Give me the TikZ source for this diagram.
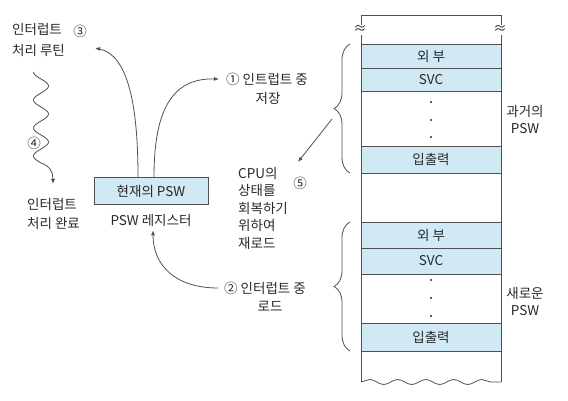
\documentclass[tikz,border=0pt]{standalone}
\usepackage{fontspec}
\setmainfont{Noto Sans CJK KR}
\usetikzlibrary{decorations.pathreplacing, decorations.pathmorphing, arrows.meta}

\begin{document}
\begin{tikzpicture}[x=1pt, y=-1pt]
    % Define styles for nodes and edges
    \tikzset{
        txt/.style={text=inkgray, font=\fontsize{13.5}{19}\selectfont, inner sep=0pt},
        pswbox/.style={draw=linegray, fill=rowblue, line width=0.8pt, minimum width=114pt, minimum height=27pt, inner sep=0pt},
        rownode/.style={draw=linegray, fill=rowblue, line width=0.8pt, minimum width=140pt, inner sep=0pt, text=inkgray, font=\fontsize{13.5}{15}\selectfont},
        edge/.style={draw=linegray, line width=0.8pt},
        arr/.style={draw=linegray, line width=0.8pt, -{Latex[length=5pt, width=4pt]}},
        bracestyle/.style={draw=linegray, line width=0.8pt, decorate, decoration={brace, amplitude=16pt}}
    }
    \definecolor{inkgray}{RGB}{40,40,40}
    \definecolor{linegray}{RGB}{80,80,80}
    \definecolor{rowblue}{RGB}{208,233,245}

    \useasboundingbox (0,0) rectangle (568,401);

    % ==========================================
    % MEMORY COLUMN
    % ==========================================
    % 1. Outline: straight top, wavy bottom
    \draw[edge] (361,382) -- (361,15) -- (501,15) -- (501,382);
    \draw[edge, decorate, decoration={snake, segment length=28pt, amplitude=2.5pt}] (361,382) -- (501,382);
    \node[txt, fill=white, inner sep=1pt] (cutl) at (360,30) {≈};
    \node[txt, fill=white, inner sep=1pt] (cutr) at (500,30) {≈};

    % 2. Old PSW rows
    \node[rownode, minimum height=24pt] (o1) at (431,56) {외 부};
    \node[rownode, minimum height=23pt] (o2) at (431,79.5) {SVC};
    \draw[edge] (361,146) -- (501,146);
    \node[rownode, minimum height=27pt] (o3) at (431,159.5) {입출력};
    \foreach \y in {102, 120, 137} { \fill[inkgray] (431,\y) circle (1.1pt); }

    % 3. New PSW rows
    \node[rownode, minimum height=26pt] (n1) at (431,235) {외 부};
    \node[rownode, minimum height=26pt] (n2) at (431,261) {SVC};
    \draw[edge] (361,323) -- (501,323);
    \node[rownode, minimum height=28pt] (n3) at (431,337) {입출력};
    \foreach \y in {280, 298, 316} { \fill[inkgray] (431,\y) circle (1.1pt); }

    % 4. Braces and their labels
    \draw[bracestyle] (350,173) -- (350,44);
    \draw[bracestyle] (350,351) -- (350,222);
    \node[txt, align=center, font=\fontsize{13.5}{17}\selectfont] (oldlbl) at (525,120) {과거의\\PSW};
    \node[txt, align=center, font=\fontsize{13.5}{17}\selectfont] (newlbl) at (525,302) {새로운\\PSW};

    % ==========================================
    % PSW REGISTER
    % ==========================================
    \node[pswbox] (cur) at (151,191) {};
    \node[txt] (curtxt) at (cur) {현재의 PSW};
    \node[txt] (reg) at (151,220) {PSW 레지스터};

    % ==========================================
    % LABELS
    % ==========================================
    \node[txt] (rtn1) at (37,29) {인터럽트};
    \node[txt, anchor=west] (rtn2) at (rtn1.west |- 0,50) {처리 루틴};
    \node[txt] (num3) at (80,31) {③};
    \node[txt] (done1) at (52,204) {인터럽트};
    \node[txt, anchor=west] (done2) at (done1.west |- 0,223) {처리 완료};
    \node[txt] (num4) at (34,143) {④};

    \node[txt] (save1) at (267,79) {① 인트럽트 중};
    \node[txt] (save2) at (268,98) {저장};
    \node[txt] (load1) at (265,288) {② 인터럽트 중};
    \node[txt] (load2) at (270,306) {로드};

    \node[txt, align=left, font=\fontsize{13.5}{17.5}\selectfont] (rest) at (263,208) {CPU의\\상태를\\회복하기\\위하여\\재로드};
    \node[txt] (num5) at (300,183) {⑤};

    % ==========================================
    % ARROWS
    % ==========================================
    \coordinate (rtntip) at (95,48);
    \coordinate (wavetop) at (34,72);
    \coordinate (wavetip) at (53,184);
    \coordinate (oldtip) at (332,119);
    \coordinate (resttip) at (298,162);

    \draw[arr] ([xshift=-13pt]cur.north) .. controls (138,105) and (128,55) .. (rtntip);
    \draw[arr] ([xshift=3pt]cur.north) .. controls (154,110) and (172,78) .. ([xshift=-7pt]save1.west);
    \draw[arr] ([xshift=-6pt]load1.west) .. controls (175,288) and (153,265) .. ([xshift=2pt, yshift=-4pt]reg.south);
    \draw[arr] (oldtip) -- (resttip);
    \draw[arr] plot[smooth, samples=70, domain=0:3.25] ({41-7.5*cos(\x*360)}, {72+\x*28})
        .. controls (50,166) and (53,172) .. (wavetip);
\end{tikzpicture}
\end{document}
